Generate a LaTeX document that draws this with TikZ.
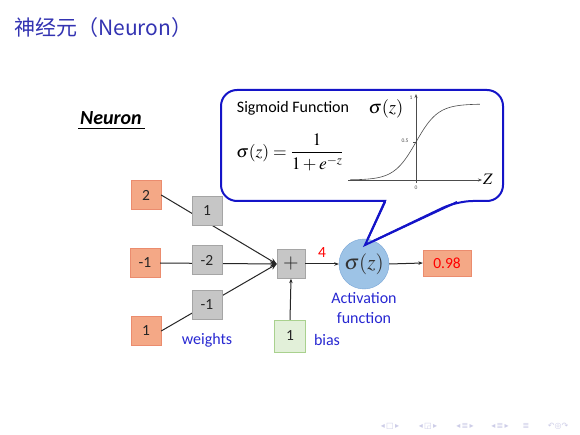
\documentclass[tikz,border=0pt]{standalone}
\usepackage{mathptmx}
\usepackage{fontspec}
\setmainfont{Carlito}
\newfontfamily\cjk{Noto Sans CJK SC}
\newfontfamily\dejavu{DejaVu Sans}
\usetikzlibrary{arrows.meta,backgrounds}
\definecolor{titleblue}{RGB}{51,51,178}
\definecolor{callblue}{RGB}{20,20,200}
\definecolor{lblblue}{RGB}{40,40,210}
\definecolor{infill}{RGB}{244,168,134}
\definecolor{indraw}{RGB}{235,140,110}
\definecolor{wfill}{RGB}{198,198,198}
\definecolor{wdraw}{RGB}{165,165,165}
\definecolor{bfill}{RGB}{226,240,217}
\definecolor{bdraw}{RGB}{169,209,142}
\definecolor{cfill}{RGB}{157,195,230}
\definecolor{cdraw}{RGB}{120,165,215}
\definecolor{navcol}{RGB}{205,205,232}
\tikzset{
  inbox/.style={draw=indraw, fill=infill, minimum width=30pt, minimum height=29pt, inner sep=0pt, font=\fontsize{15.5}{17}\selectfont, text=black!85},
  wbox/.style={draw=wdraw, fill=wfill, minimum width=30pt, minimum height=29pt, inner sep=0pt, font=\fontsize{15.5}{17}\selectfont, text=black!85},
  lbl/.style={text=lblblue, font=\fontsize{16}{18}\selectfont, inner sep=0pt},
  conn/.style={line width=1pt, black!85},
  arr/.style={conn, -{Stealth[length=6.5pt,width=5.5pt]}},
  smallarr/.style={conn, -{Stealth[length=4.5pt,width=3.5pt]}},
  navsym/.style={inner sep=0pt, text=navcol, font=\dejavu\fontsize{8}{9}\selectfont},
}
\begin{document}
\begin{tikzpicture}[x=1pt,y=-1pt]
\useasboundingbox (0,0) rectangle (580,435);
\fill[white] (0,0) rectangle (580,435);

% title
\node[anchor=west, inner sep=0pt, text=titleblue, font=\cjk\fontsize{21}{24}\selectfont] (title) at (14,28) {神经元（Neuron）};

% Neuron heading
\node[inner sep=0pt, font=\fontsize{20}{22}\selectfont\bfseries\itshape] (heading) at (111,118) {Neuron};
\draw[line width=1.3pt] (78,128.5) -- (145,128.5);

% callout
\draw[callblue, line width=2pt, fill=white] (365,245) -- (385,201) [rounded corners=16pt] -- (221,201) -- (221,90) -- (503,90) -- (503,201) -- (457,201) [sharp corners] -- cycle;

\node[inner sep=0pt, font=\fontsize{16}{18}\selectfont] (sigtitle) at (293,108) {Sigmoid Function};
\node[inner sep=0pt, font=\fontsize{17.5}{20}\selectfont] (formula) at (290,152) {$\displaystyle\sigma\!\left(z\right)=\frac{1}{1+e^{-z}}$};
\node[inner sep=0pt, font=\fontsize{18.5}{20}\selectfont] (sigy) at (386,109) {$\sigma\!\left(z\right)$};

% sigmoid plot
\coordinate (xs) at (348,180);
\coordinate (xe) at (482,180);
\coordinate (ys) at (416,183);
\coordinate (ye) at (416,94);
\draw[line width=0.6pt, black!70, -{Stealth[length=4pt,width=3pt]}] (xs) -- (xe);
\draw[line width=0.6pt, black!70, -{Stealth[length=4pt,width=3pt]}] (ys) -- (ye);
\draw[line width=0.6pt, black!70] plot[domain=-6:5.8, samples=80, smooth] ({416+11*\x},{180-76/(1+exp(-\x))});
\draw[line width=0.4pt, black!70] (413,142) -- (416,142);
\node[inner sep=0pt, font=\fontsize{5.5}{6}\selectfont, text=black!70] (t1) at (411,98) {1};
\node[inner sep=0pt, font=\fontsize{5.5}{6}\selectfont, text=black!70] (t05) at (405,141) {0.5};
\node[inner sep=0pt, font=\fontsize{5.5}{6}\selectfont, text=black!70] (t0) at (416,188) {0};
\node[inner sep=0pt, font=\fontsize{16}{17}\selectfont] (zlbl) at (488,179) {$Z$};

% input boxes
\node[inbox] (in1) at (146,195) {2};
\node[inbox] (in2) at (145,263) {-1};
\node[inbox] (in3) at (146,331) {1};

% sum, bias, activation, output
\node[wbox, minimum width=28pt, minimum height=29pt, font=\fontsize{20}{20}\selectfont] (sum) at (291,264) {$+$};
\node[draw=bdraw, fill=bfill, minimum width=31pt, minimum height=32pt, inner sep=0pt, font=\fontsize{15.5}{17}\selectfont, text=black!85] (bias) at (290,336) {1};
\node[circle, draw=cdraw, fill=cfill, minimum size=50pt, inner sep=0pt, font=\fontsize{21}{22}\selectfont, text=black!80] (act) at (364,264) {$\sigma\!\left(z\right)$};
\node[draw=indraw, fill=infill, minimum width=48pt, minimum height=26pt, inner sep=0pt, font=\fontsize{15.5}{17}\selectfont, text=red] (out) at (447,263) {0.98};

% connectors from inputs to sum (weights drawn on top)
\draw[arr] (in1.east) -- (sum.west);
\draw[arr] (in2.east) -- (sum.west);
\draw[arr] (in3.east) -- (sum.west);

% weight boxes
\node[wbox] (w1) at (207,211) {1};
\node[wbox] (w2) at (207,260) {-2};
\node[wbox] (w3) at (207,305) {-1};

\draw[smallarr] (bias.north) -- (sum.south);
\draw[smallarr] (sum.east) -- node[above=6pt, text=red, font=\fontsize{15.5}{17}\selectfont, inner sep=0pt] (zval) {4} (act.west);
\draw[smallarr] (act.east) -- (out.west);

% callout pointer tip redrawn over circle
\draw[callblue, line width=2pt, line join=miter] (385,202) -- (365,245) -- (457,202);

% labels
\node[lbl] (wlbl) at (207,340) {weights};
\node[lbl] (blbl) at (327,340) {bias};
\node[lbl] (alab1) at (364,298) {Activation};
\node[lbl] (alab2) at (364,318) {function};

% navigation symbols
\node[navsym] (nav1) at (390,426) {◂\,□\,▸};
\node[navsym] (nav2) at (428,426) {◂\,◲\,▸};
\node[navsym] (nav3) at (465,426) {◂\,≣\,▸};
\node[navsym] (nav4) at (500,426) {◂\,≣\,▸};
\node[navsym] (nav5) at (526,426) {≣};
\node[navsym] (nav6) at (558,426) {↶◎↷};
\end{tikzpicture}
\end{document}
